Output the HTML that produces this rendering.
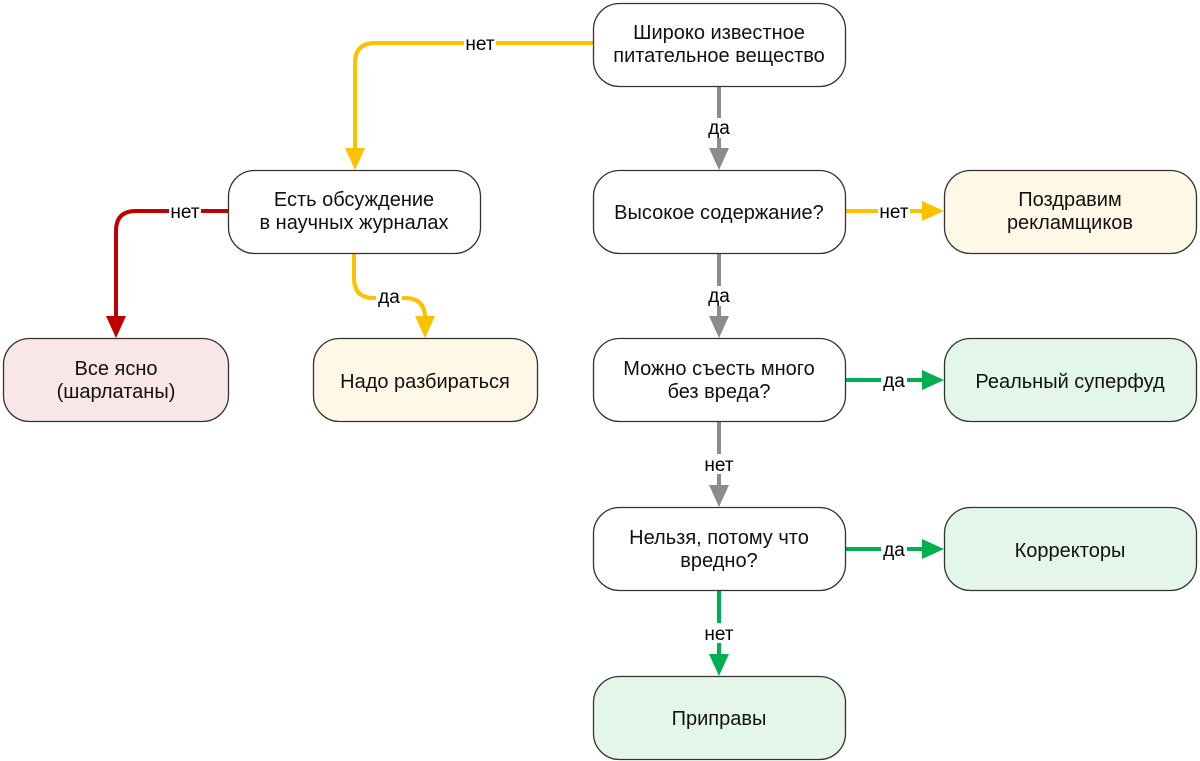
<!DOCTYPE html>
<html><head><meta charset="utf-8"><style>
html,body{margin:0;padding:0;background:#fff;}
svg{display:block;font-family:"Liberation Sans",Arial,sans-serif;}
</style></head><body>
<svg width="1200" height="761" viewBox="0 0 1200 761" xmlns="http://www.w3.org/2000/svg">
<g fill="none" stroke-width="4">
<path d="M719 86 V150" stroke="#8c8c8c"/>
<path d="M719 253 V318" stroke="#8c8c8c"/>
<path d="M719 421 V487" stroke="#8c8c8c"/>
<path d="M719 590 V656" stroke="#00b050"/>
<path d="M846 211 H924" stroke="#ffc000"/>
<path d="M846 380 H924" stroke="#00b050"/>
<path d="M846 549 H924" stroke="#00b050"/>
<path d="M593 43 H375 Q355 43 355 63 V150" stroke="#ffc000"/>
<path d="M228 211 H136 Q116 211 116 231 V318" stroke="#c00000"/>
<path d="M354 253 V278 Q354 298 374 298 H405 Q425 298 425 318 V320" stroke="#ffc000"/>
</g>
<g>
<polygon points="709,148 729,148 719,170" fill="#8c8c8c"/>
<polygon points="709,316 729,316 719,338" fill="#8c8c8c"/>
<polygon points="709,485 729,485 719,507" fill="#8c8c8c"/>
<polygon points="709,654 729,654 719,676" fill="#00b050"/>
<polygon points="922,201 922,221 944,211" fill="#ffc000"/>
<polygon points="922,370 922,390 944,380" fill="#00b050"/>
<polygon points="922,539 922,559 944,549" fill="#00b050"/>
<polygon points="345,148 365,148 355,170" fill="#ffc000"/>
<polygon points="106,316 126,316 116,338" fill="#c00000"/>
<polygon points="415,316 435,316 425,338" fill="#ffc000"/>
</g>
<g font-size="19" fill="#000" text-anchor="middle">
<rect x="464" y="33" width="32" height="20" fill="#fff"/><text x="480" y="50">нет</text>
<rect x="705" y="118" width="28" height="20" fill="#fff"/><text x="719" y="134">да</text>
<rect x="705" y="286" width="28" height="20" fill="#fff"/><text x="719" y="302">да</text>
<rect x="703" y="454" width="32" height="20" fill="#fff"/><text x="719" y="471">нет</text>
<rect x="703" y="623" width="32" height="20" fill="#fff"/><text x="719" y="640">нет</text>
<rect x="878" y="201" width="32" height="20" fill="#fff"/><text x="894" y="218">нет</text>
<rect x="881" y="370" width="26" height="20" fill="#fff"/><text x="894" y="387">да</text>
<rect x="881" y="539" width="26" height="20" fill="#fff"/><text x="894" y="556">да</text>
<rect x="169" y="201" width="32" height="20" fill="#fff"/><text x="185" y="218">нет</text>
<rect x="376" y="288" width="26" height="20" fill="#fff"/><text x="389" y="303">да</text>
</g>
<g stroke="#333" stroke-width="1.3">
<rect x="593.5" y="3.5" width="252" height="83" rx="26" fill="#fff"/>
<rect x="593.5" y="170.5" width="252" height="83" rx="26" fill="#fff"/>
<rect x="593.5" y="338.5" width="252" height="83" rx="26" fill="#fff"/>
<rect x="593.5" y="507.5" width="252" height="83" rx="26" fill="#fff"/>
<rect x="593.5" y="676.5" width="252" height="83" rx="26" fill="#e4f5e9"/>
<rect x="944.5" y="170.5" width="252" height="83" rx="26" fill="#fff8e6"/>
<rect x="944.5" y="338.5" width="252" height="83" rx="26" fill="#e4f5e9"/>
<rect x="944.5" y="507.5" width="252" height="83" rx="26" fill="#e4f5e9"/>
<rect x="228.5" y="170.5" width="252" height="83" rx="26" fill="#fff"/>
<rect x="3.5" y="338.5" width="225" height="83" rx="26" fill="#f9e6e6"/>
<rect x="313.5" y="338.5" width="224" height="83" rx="26" fill="#fff8e6"/>
</g>
<g font-size="20" fill="#111" text-anchor="middle">
<text x="719" y="39">Широко известное</text><text x="719" y="62">питательное вещество</text>
<text x="719" y="219">Высокое содержание?</text>
<text x="719" y="375">Можно съесть много</text><text x="719" y="398">без вреда?</text>
<text x="719" y="544">Нельзя, потому что</text><text x="719" y="567">вредно?</text>
<text x="719" y="725">Приправы</text>
<text x="1070" y="206">Поздравим</text><text x="1070" y="229">рекламщиков</text>
<text x="1070" y="388">Реальный суперфуд</text>
<text x="1070" y="557">Корректоры</text>
<text x="354" y="206">Есть обсуждение</text><text x="354" y="229">в научных журналах</text>
<text x="116" y="375">Все ясно</text><text x="116" y="398">(шарлатаны)</text>
<text x="425" y="388">Надо разбираться</text>
</g>
</svg>
</body></html>
